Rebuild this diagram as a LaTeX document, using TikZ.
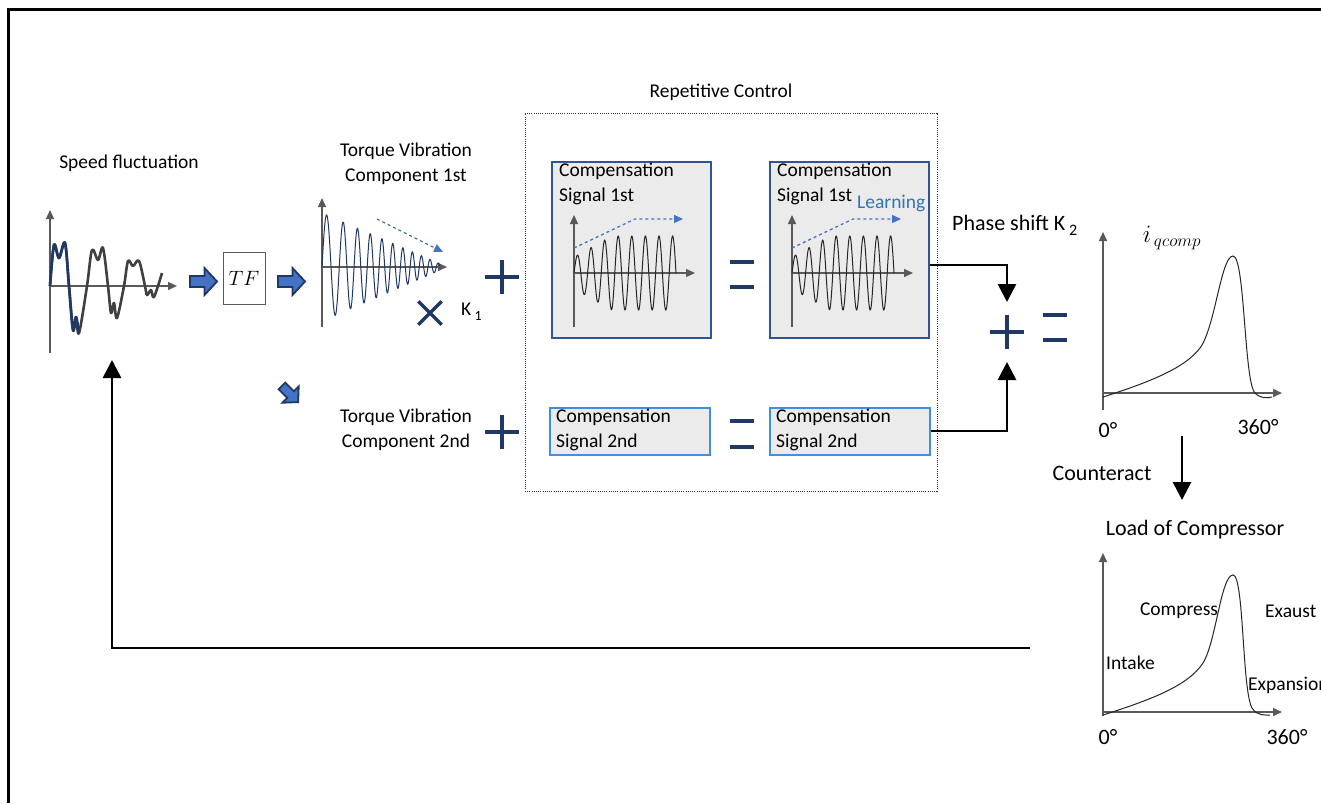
\documentclass[tikz,border=0pt]{standalone}
\usepackage{fontspec}
\setmainfont{Carlito}
\usetikzlibrary{arrows.meta}
\definecolor{navy}{HTML}{1F3864}
\definecolor{bluefill}{HTML}{4472C4}
\definecolor{dashblue}{HTML}{4472C4}
\definecolor{boxonec}{HTML}{2F5597}
\definecolor{boxtwoc}{HTML}{3D8FE8}
\definecolor{boxfill}{HTML}{EBEBEB}
\definecolor{axisgray}{HTML}{595959}
\definecolor{wavegray}{HTML}{404040}
\definecolor{learnblue}{HTML}{2E75B6}
\tikzset{
  lbl/.style={font=\fontsize{19.5}{25}\selectfont, inner sep=0pt},
  biglbl/.style={font=\fontsize{22}{26}\selectfont, inner sep=0pt},
  axisline/.style={draw=axisgray, line width=1.4pt, -{Triangle[length=9pt,width=8pt]}},
  opline/.style={draw=navy, line width=4pt},
  opnode/.style={inner sep=0pt, minimum width=34pt, minimum height=34pt},
  eqnode/.style={inner sep=0pt, minimum width=23pt, minimum height=25pt},
  conn/.style={draw=black, line width=2.7pt, -{Triangle[length=18pt,width=18pt]}},
  dashar/.style={draw=dashblue, line width=1.3pt, dashed, -{Triangle[length=9pt,width=8pt]}},
  cboxa/.style={draw=boxonec, fill=boxfill, line width=2.5pt, minimum width=159pt, minimum height=176pt, inner sep=0pt},
  cboxb/.style={draw=boxtwoc, fill=boxfill, line width=2pt, minimum width=160pt, minimum height=47pt, inner sep=0pt},
  ctext/.style={lbl, align=left, anchor=north west},
  barrow/.pic={\draw[fill=bluefill, draw=navy, line width=1.8pt, line join=miter]
     (-13.5,-5.5) -- (1,-5.5) -- (1,-13.5) -- (13.5,0) -- (1,13.5) -- (1,5.5) -- (-13.5,5.5) -- cycle;}
}
\newcommand{\compgraphat}[1]{%
  \draw[axisline] (#1,327) -- (#1,215);
  \draw[axisline] (#1,273) -- ({#1+121},273);
  \draw[black!85, line width=1pt] plot[domain=0:102, samples=300]
     ({#1+\x},{273-min(16+0.55*\x,37)*sin(26.47*\x)});
  \draw[dashar] (#1,248) -- ({#1+61},219) -- ({#1+109},219);}
\begin{document}
\begin{tikzpicture}[x=1pt,y=-1pt]
\clip (0,0) rectangle (1321,803);
\fill[white] (0,0) rectangle (1321,803);
% frame
\draw[line width=3pt] (8,803) -- (8,9) -- (1321,9);

% ---------- speed fluctuation ----------
\node[lbl] (speed) at (129,163) {Speed fluctuation};
\draw[axisline] (50,353) -- (50,210);
\draw[axisline] (50,286) -- (177,286);
\draw[wavegray, line width=2.6pt, line join=round] plot[smooth, tension=0.55] coordinates {
 (50,286) (54,245) (59,258) (65,243) (69,286) (73,330) (76,317) (79,333) (87,286)
 (92,250) (98,260) (103,248) (108,286) (111,313) (114,303) (117,318) (124,286)
 (128,261) (133,266) (139,261) (145,286) (147,295) (151,290) (154,297) (162,273)};
\draw[navy, line width=2.6pt, line join=round] plot[smooth, tension=0.55] coordinates {
 (50,286) (54,245) (59,258) (65,243) (69,286) (73,330) (76,317) (79,333)};
\coordinate (fbend) at (112,360);

% ---------- TF ----------
\pic at (203.5,281.5) {barrow};
\node[draw=axisgray, line width=1pt, minimum width=42pt, minimum height=52pt, inner sep=0pt,
      font=\fontsize{20}{22}\selectfont] (tf) at (244,278) {$TF$};
\pic at (291.5,281.5) {barrow};
\pic[rotate=-45, scale=0.85] at (290,394) {barrow};

% ---------- torque vibration 1st ----------
\node[lbl, align=center] (tv1) at (406,164) {Torque Vibration\\Component 1st};
\draw[axisline] (322,327) -- (322,198);
\draw[axisline] (322,267) -- (447,267);
\draw[navy, line width=1pt] plot[domain=0:118, samples=500]
  ({322+\x},{267-(54-0.43*\x)*sin(360*(0.0526*\x+0.000307*\x*\x))});
\draw[dashar] (377,219) -- (443,252);
\node[opnode, minimum width=23pt, minimum height=23pt] (times) at (430,313) {};
\draw[navy, line width=3.5pt] (times.north west) -- (times.south east) (times.north east) -- (times.south west);
\node[lbl, anchor=west] (k1) at (461,312) {K\,\raisebox{-5pt}{\fontsize{14}{15}\selectfont 1}};
\node[opnode] (plus1) at (502,277) {};
\draw[opline] (plus1.north) -- (plus1.south) (plus1.west) -- (plus1.east);

% ---------- torque vibration 2nd ----------
\node[lbl, align=center] (tv2) at (406,430) {Torque Vibration\\Component 2nd};
\node[opnode] (plus2) at (502,432) {};
\draw[opline] (plus2.north) -- (plus2.south) (plus2.west) -- (plus2.east);

% ---------- repetitive control ----------
\node[lbl] (rctitle) at (721,92) {Repetitive Control};
\node[draw=black!80, line width=1pt, dash pattern=on 1pt off 1.2pt, minimum width=412pt, minimum height=378pt, inner sep=0pt] (rc) at (731,302) {};

\node[cboxa] (cb1) at (631.5,250) {};
\node[ctext] (cb1t) at (559,163) {Compensation\\Signal 1st};
\compgraphat{574}
\node[eqnode] (eq1) at (742,274.5) {};
\draw[opline] (eq1.north west) -- (eq1.north east) (eq1.south west) -- (eq1.south east);
\node[cboxa] (cb2) at (849.5,250) {};
\node[ctext] (cb2t) at (777,163) {Compensation\\Signal 1st};
\compgraphat{792}
\node[lbl, text=learnblue, anchor=west] (learn) at (857,203) {Learning};

\node[cboxb] (cb3) at (630,431) {};
\node[ctext] (cb3t) at (556,409) {Compensation\\Signal 2nd};
\node[eqnode] (eq2) at (742,434) {};
\draw[opline] (eq2.north west) -- (eq2.north east) (eq2.south west) -- (eq2.south east);
\node[cboxb] (cb4) at (850,431) {};
\node[ctext] (cb4t) at (776,409) {Compensation\\Signal 2nd};

% ---------- summation ----------
\node[biglbl, anchor=west] (phase) at (952,225) {Phase shift K\,\raisebox{-5pt}{\fontsize{16}{17}\selectfont 2}};
\node[opnode] (plus3) at (1007,332) {};
\draw[opline] (plus3.north) -- (plus3.south) (plus3.west) -- (plus3.east);
\node[eqnode] (eq3) at (1055,327.5) {};
\draw[opline] (eq3.north west) -- (eq3.north east) (eq3.south west) -- (eq3.south east);
\coordinate (tipa) at (1007,302);
\coordinate (tipb) at (1007,362);
\draw[conn] (cb2.east |- 0,265) -| (tipa);
\draw[conn] (cb4.east) -| (tipb);

% ---------- i_qcomp graph ----------
\node[font=\fontsize{25}{27}\selectfont, inner sep=0pt] (iq) at (1172,238) {$i_{\,qcomp}$};
\draw[axisline] (1103,410) -- (1103,232);
\draw[axisline] (1103,393) -- (1282,393);
\draw[black!85, line width=1pt] (1103,397) .. controls (1150,382) and (1185,368) .. (1200,348)
  .. controls (1215,328) and (1221,256) .. (1233,256)
  .. controls (1245,256) and (1244,382) .. (1255,393)
  .. controls (1261,399) and (1267,398) .. (1272,397);
\node[biglbl] (zeroa) at (1108,430) {0°};
\node[biglbl] (fulla) at (1258,427) {360°};
\node[biglbl] (counter) at (1102,473) {Counteract};
\coordinate (cta) at (1182,436);
\coordinate (ctb) at (1182,500);
\draw[conn] (cta) -- (ctb);

% ---------- load of compressor ----------
\node[biglbl] (load) at (1195,530) {Load of Compressor};
\draw[axisline] (1103,716) -- (1103,553);
\draw[axisline] (1103,712) -- (1282,712);
\draw[black!85, line width=1pt] (1103,715) .. controls (1150,700) and (1188,686) .. (1203,663)
  .. controls (1216,642) and (1221,575) .. (1233,575)
  .. controls (1244,575) and (1242,690) .. (1252,708)
  .. controls (1257,716) and (1265,715) .. (1270,715);
\node[lbl] (compress) at (1179,611) {Compress};
\node[lbl, anchor=west] (exaust) at (1265,611) {Exaust};
\node[lbl, anchor=west] (intake) at (1106,663) {Intake};
\node[lbl, anchor=west] (expansion) at (1248,685) {Expansion};
\node[biglbl] (zerob) at (1108,737) {0°};
\node[biglbl] (fullb) at (1287,737) {360°};

% ---------- feedback ----------
\coordinate (fbstart) at (1030,648);
\draw[conn] (fbstart) -| (fbend);
\end{tikzpicture}
\end{document}
